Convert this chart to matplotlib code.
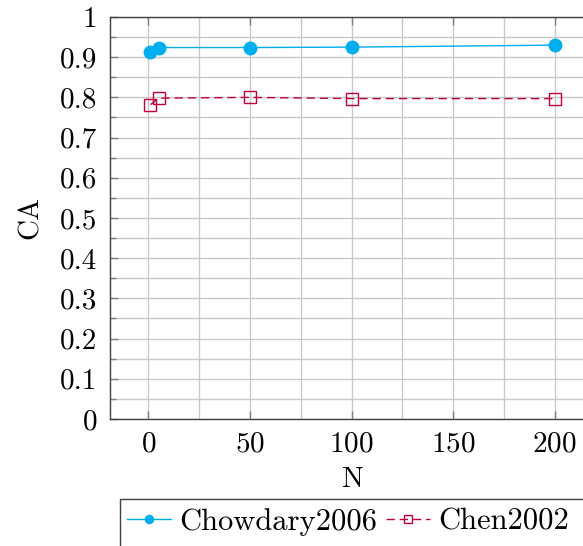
import matplotlib.pyplot as plt
from matplotlib.patches import Rectangle
from matplotlib.ticker import MultipleLocator

# values
n_values = [1, 5, 50, 100, 200]
chowdary2006 = [0.914, 0.924, 0.924, 0.925, 0.930]
chen2002 = [0.782, 0.798, 0.800, 0.797, 0.797]

plt.rcParams['font.family'] = 'serif'
plt.rcParams['font.serif'] = ['cmr10']
plt.rcParams['mathtext.fontset'] = 'cm'
plt.rcParams['axes.formatter.use_mathtext'] = True

fig = plt.figure(figsize=(5.83, 5.46), dpi=100)
ax = fig.add_axes([0.1887, 0.2326, 0.832, 0.7363])

ax.plot(n_values, chowdary2006, color="#00aeef", linewidth=1, marker="o",
        markersize=9, label="Chowdary2006", zorder=3)
ax.plot(n_values, chen2002, color="#bf0040", linewidth=1, linestyle=(0, (6, 3.5)),
        marker="s", markersize=9, markerfacecolor="none", markeredgewidth=1,
        label="Chen2002", zorder=3)

ax.set_xlim(-18.9, 219.9)
ax.set_ylim(0, 1)
ax.xaxis.set_major_locator(MultipleLocator(50))
ax.xaxis.set_minor_locator(MultipleLocator(25))
ax.yaxis.set_minor_locator(MultipleLocator(0.05))
ax.set_yticks([0, 0.1, 0.2, 0.3, 0.4, 0.5, 0.6, 0.7, 0.8, 0.9, 1.0])
ax.set_yticklabels(["0", "0.1", "0.2", "0.3", "0.4", "0.5", "0.6", "0.7", "0.8", "0.9", "1"])

ax.grid(which="both", color="#c8c8c8", linewidth=1, zorder=0)
ax.set_axisbelow(True)
ax.tick_params(which="major", direction="in", length=6, width=1, color="#808080",
               top=True, right=True, labelsize=21, pad=9)
ax.tick_params(which="minor", direction="in", length=4, width=1, color="#808080",
               left=True, right=True, bottom=False, top=False)
for s in ax.spines.values():
    s.set_color("#404040")
    s.set_linewidth(1)

ax.set_xlabel("N", fontsize=21, labelpad=6)
ax.set_ylabel("CA", fontsize=21, labelpad=12)

# legend box runs past the bottom and right edges of the picture
fig.add_artist(Rectangle((120 / 583, -0.1), 1.0, 0.1 + 1 - 499 / 546,
                         transform=fig.transFigure, facecolor="white",
                         edgecolor="#404040", linewidth=1))
leg = fig.legend(loc="center left", bbox_to_anchor=(124 / 583, 1 - 522 / 546), ncol=2,
                 fontsize=22, frameon=False, markerscale=0.65,
                 handlelength=1.45, handletextpad=0.25, columnspacing=0.3,
                 borderpad=0.1, borderaxespad=0)

fig.savefig("out.png", dpi=100)
